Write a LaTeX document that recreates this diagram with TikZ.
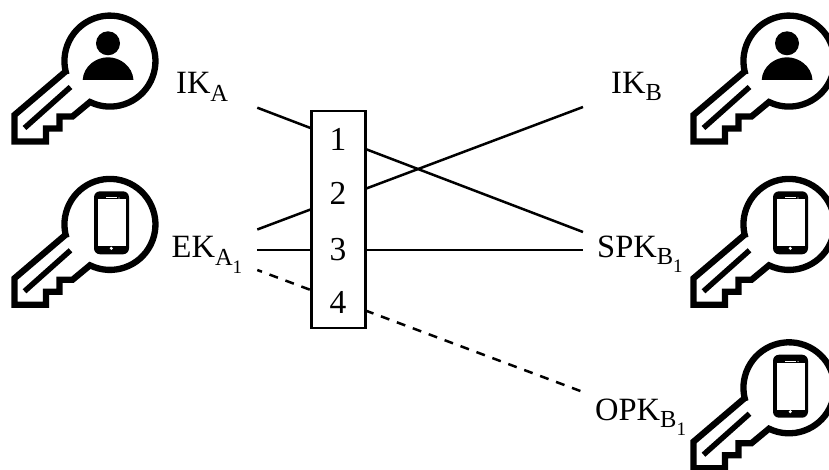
\documentclass[tikz,border=0pt]{standalone}
\usepackage{fontspec}
\setmainfont{Liberation Serif}
\newcommand{\subA}[1]{\raisebox{-7.5pt}{\fontsize{24.5}{24.5}\selectfont #1}}
\newcommand{\subB}[2]{\raisebox{-7.5pt}{\fontsize{24.5}{24.5}\selectfont #1\raisebox{-8pt}{\fontsize{19}{19}\selectfont #2}}}
\tikzset{
  keyline/.style={line width=6.3pt,miter limit=10,join=miter},
  lbl/.style={anchor=base west,inner sep=0pt,font=\fontsize{32.5}{32.5}\selectfont},
  digit/.style={anchor=base,inner sep=0pt,font=\fontsize{33.5}{33.5}\selectfont},
  conn/.style={line width=2.5pt},
  connd/.style={line width=2.5pt,dash pattern=on 9pt off 8pt,dash phase=4pt},
  boxst/.style={draw,fill=white,line width=2.8pt,minimum width=54pt,minimum height=217pt,inner sep=0pt},
  pics/keybody/.style={code={
    \draw[keyline] (65,72) -- (14.5,115) -- (14.5,141.5) -- (46,141.5) -- (46,128.5)
      -- (59.5,128.5) -- (59.5,116.5) -- (72.5,116.5) -- (90,102)
      arc[start angle=116,end angle=-197,radius=45.5];
    \draw[line width=5.5pt] (24.5,128) -- (70.5,87);
  }},
  pics/person/.style={code={
    \fill (108,43.3) circle[radius=12];
    \fill (82.7,80) .. controls (83.5,66) and (96,57.3) .. (108,57.3)
       .. controls (120,57.3) and (132.5,66) .. (133.5,80) -- cycle;
  }},
  pics/phone/.style={code={
    \fill[rounded corners=6pt] (94,28) rectangle (129,91);
    \fill[white] (97.7,36) rectangle (126.3,83);
    \fill[white] (106,34.2) rectangle (117,35.2);
    \fill[white] (119,34.7) circle[radius=0.6];
    \fill[white] (111.3,85) circle[radius=1.7];
  }},
}
\begin{document}
\begin{tikzpicture}[x=1pt,y=-1pt]
\useasboundingbox (0,0) rectangle (829,470);
\begin{scope}
\clip (0,0) rectangle (829,470);
\pic at (0,0) {keybody};
\pic at (0,0) {person};
\pic at (0,163.3) {keybody};
\pic at (0,163.3) {phone};
\pic at (679,0) {keybody};
\pic at (679,0) {person};
\pic at (679,163.3) {keybody};
\pic at (679,163.3) {phone};
\pic at (679,326.7) {keybody};
\pic at (679,326.7) {phone};
\end{scope}
\node[lbl] (ika) at (176,94) {IK\subA{A}};
\node[lbl] (ekab) at (171.5,258) {EK\subB{A}{1}};
\node[lbl] (ikb) at (611,93.5) {IK\subA{B}};
\node[lbl] (spk) at (597,257) {SPK\subB{B}{1}};
\node[lbl] (opk) at (595,420) {OPK\subB{B}{1}};
\coordinate (a1) at (257.3,107.7);
\coordinate (a2) at (257.3,229.5);
\coordinate (a3) at (257.3,250);
\coordinate (a4) at (257.3,270);
\coordinate (b1) at (583,107);
\coordinate (b2) at (583,232);
\coordinate (b3) at (583,250);
\coordinate (b4) at (583,392);
\draw[conn] (a1) -- (b2);
\draw[conn] (a2) -- (b1);
\draw[conn] (a3) -- (b3);
\draw[connd] (a4) -- (b4);
\node[boxst] (box) at (338.8,219.5) {};
\node[digit] (d1) at (338,151) {1};
\node[digit] (d2) at (338,205) {2};
\node[digit] (d3) at (338,260) {3};
\node[digit] (d4) at (338,313) {4};
\end{tikzpicture}
\end{document}
